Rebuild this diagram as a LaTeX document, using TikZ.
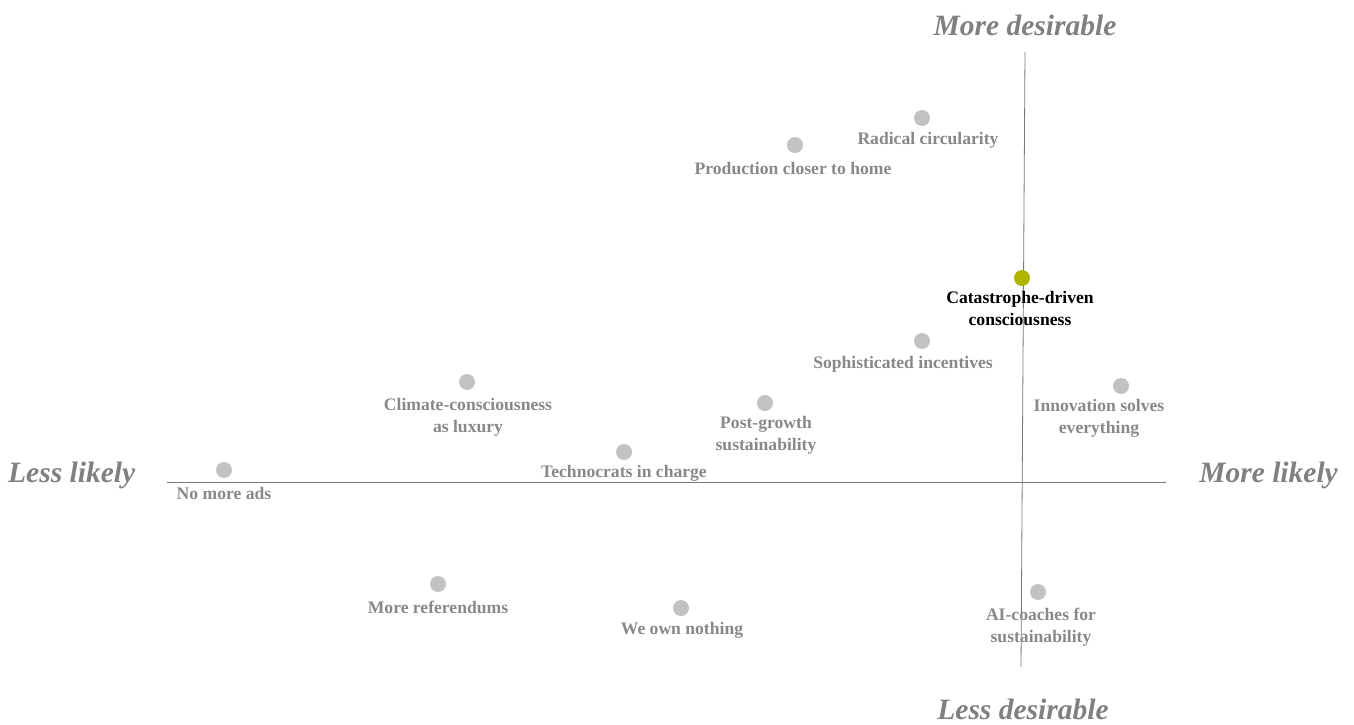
\documentclass[tikz,border=0pt]{standalone}
\usepackage{fontspec}
\setmainfont{Liberation Serif}
\definecolor{dotgray}{RGB}{194,194,194}
\definecolor{labelgray}{RGB}{136,136,136}
\definecolor{axisgray}{RGB}{120,120,120}
\definecolor{axistext}{RGB}{128,128,128}
\definecolor{hilite}{RGB}{176,180,0}
\begin{document}
\begin{tikzpicture}[x=1pt,y=-1pt,
  dot/.style={circle,fill=dotgray,inner sep=0pt,minimum size=16pt},
  hidot/.style={circle,fill=hilite,inner sep=0pt,minimum size=16pt},
  lbl/.style={text=labelgray,font=\fontsize{17.6}{22}\selectfont\bfseries,align=center,inner sep=0pt},
  hilbl/.style={text=black,font=\fontsize{17.6}{22}\selectfont\bfseries,align=center,inner sep=0pt},
  axlbl/.style={text=axistext,font=\fontsize{29.5}{31}\selectfont\bfseries\itshape,inner sep=0pt},
  axisline/.style={draw=axisgray,line width=0.8pt}]
\useasboundingbox (0,0) rectangle (1354,725);
% axes
\coordinate (htop) at (1025,52);
\coordinate (hbot) at (1021,667);
\coordinate (hl) at (167,482);
\coordinate (hr) at (1166,482);
\draw[axisline] (hl) -- (hr);
\draw[axisline] (htop) -- (hbot);
% axis labels
\node[axlbl] (md) at (1025,25) {More desirable};
\node[axlbl] (ld) at (1023,709) {Less desirable};
\node[axlbl,anchor=west] (ll) at (8,475) {Less likely};
\node[axlbl,anchor=east] (ml) at (1338,475) {More likely};
% dots
\node[dot] (d1) at (922,118) {};
\node[lbl] (l1) at (928,140) {Radical circularity};
\node[dot] (d2) at (795,145) {};
\node[lbl] (l2) at (793,169) {Production closer to home};
\node[hidot] (d3) at (1022,278) {};
\node[hilbl] (l3) at (1020,308) {Catastrophe-driven\\consciousness};
\node[dot] (d4) at (922,341) {};
\node[lbl] (l4) at (903,364) {Sophisticated incentives};
\node[dot] (d5) at (1121,386) {};
\node[lbl] (l5) at (1099,418) {Innovation solves\\everything};
\node[dot] (d6) at (467,382) {};
\node[lbl] (l6) at (468,417) {Climate-consciousness\\as luxury};
\node[dot] (d7) at (765,403) {};
\node[lbl] (l7) at (766,435) {Post-growth\\sustainability};
\node[dot] (d8) at (624,452) {};
\node[lbl] (l8) at (624,473) {Technocrats in charge};
\node[dot] (d9) at (224,470) {};
\node[lbl] (l9) at (224,493) {No more ads};
\node[dot] (d10) at (438,584) {};
\node[lbl] (l10) at (438,607) {More referendums};
\node[dot] (d11) at (681,608) {};
\node[lbl] (l11) at (682,630) {We own nothing};
\node[dot] (d12) at (1038,592) {};
\node[lbl] (l12) at (1041,627) {AI-coaches for\\sustainability};
\end{tikzpicture}
\end{document}
